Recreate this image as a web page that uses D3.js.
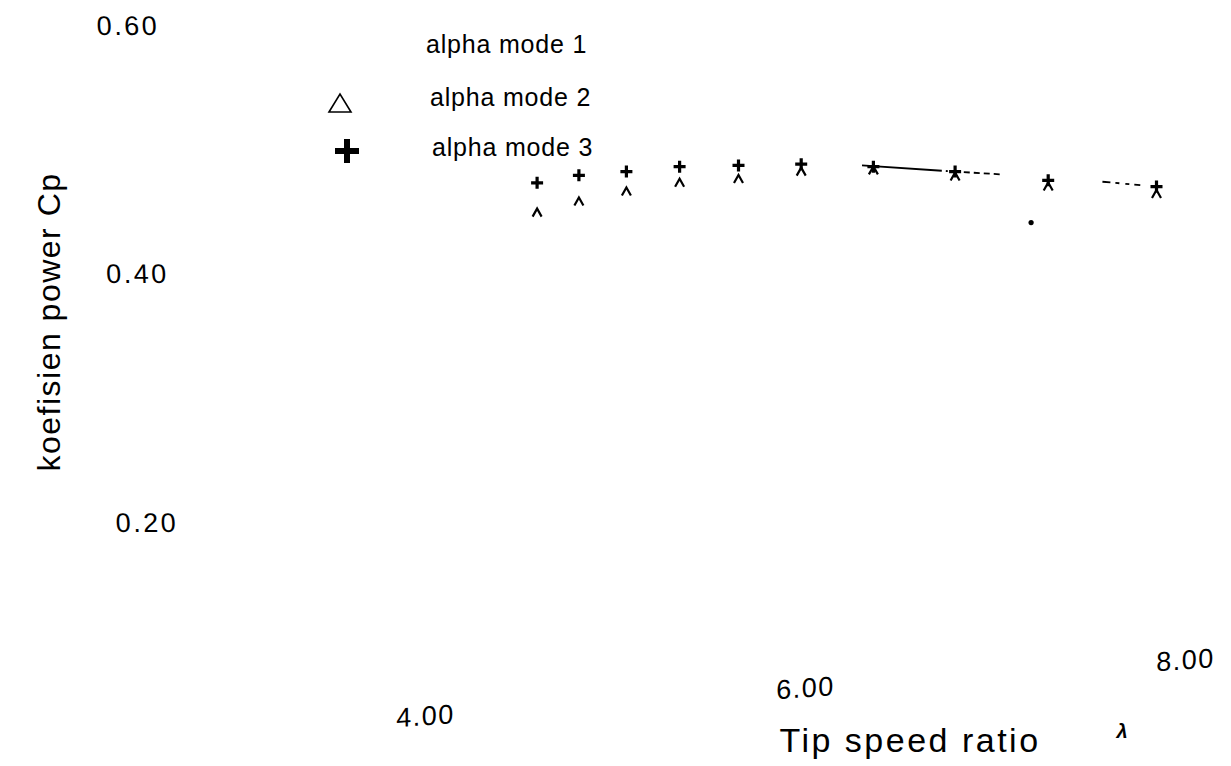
<!DOCTYPE html>
<html>
<head>
<meta charset="utf-8">
<script src="https://cdn.jsdelivr.net/npm/d3@7"></script>
<style>
  html, body { margin: 0; padding: 0; background: #fff; }
  svg { display: block; }
  text { font-family: "Liberation Sans", Arial, sans-serif; fill: #000; }
</style>
</head>
<body>
<svg id="chart" width="1231" height="766"></svg>
<script>
// ---- data ----
const tsr = [4.59, 4.81, 5.06, 5.34, 5.65, 5.98, 6.36, 6.79, 7.28, 7.85];
const cpMode3 = [0.473, 0.479, 0.482, 0.486, 0.487, 0.488, 0.486, 0.482, 0.475, 0.470];
const cpMode2 = [0.449, 0.458, 0.466, 0.473, 0.476, 0.482, 0.483, 0.478, 0.470, 0.464];
const tsrMode1 = [6.30, 6.79, 7.33, 7.85];
const cpMode1 = [0.487, 0.482, 0.477, 0.470];
const tsrMode1Pts = [7.19];
const cpMode1Pts = [0.441];
const xTicks = [4, 6, 8];
const xTickLabels = ["4.00", "6.00", "8.00"];
const yTicks = [0.2, 0.4, 0.6];
const yTickLabels = ["0.20", "0.40", "0.60"];
const legendLabels = ["alpha mode 1", "alpha mode 2", "alpha mode 3"];

const svg = d3.select("#chart");
const x = d3.scaleLinear().domain([4, 8]).range([425, 1185]);
const y = d3.scaleLinear().domain([0.2, 0.6]).range([522, 25]);

// ---- x axis (tick labels only, scan is skewed) ----
const xAxis = d3.axisBottom(x).tickValues(xTicks)
  .tickFormat((d, i) => xTickLabels[i]).tickSize(0);
const gx = svg.append("g").attr("transform", "translate(0,747) skewY(-4.21)").call(xAxis);
gx.select(".domain").remove();
gx.selectAll("text").attr("y", 0).attr("dy", "0.35em")
  .style("font-size", "27px").style("font-family", "'Liberation Sans', Arial, sans-serif")
  .style("letter-spacing", "1.5px");

// ---- y axis (tick labels only) ----
const yAxis = d3.axisLeft(y).tickValues(yTicks)
  .tickFormat((d, i) => yTickLabels[i]).tickSize(0);
const gy = svg.append("g").attr("transform", "translate(127,0) skewX(2.19)").call(yAxis);
gy.select(".domain").remove();
gy.selectAll("text").attr("x", 0).attr("dy", "0.35em").attr("text-anchor", "middle")
  .style("font-size", "27px").style("font-family", "'Liberation Sans', Arial, sans-serif")
  .style("letter-spacing", "2.5px");

// ---- axis titles ----
svg.append("text").attr("transform", "translate(60,322) rotate(-90)")
  .attr("text-anchor", "middle").style("font-size", "32px").style("letter-spacing", "1.5px")
  .text("koefisien power  Cp");
svg.append("text").attr("x", 910).attr("y", 752).attr("text-anchor", "middle")
  .style("font-size", "34px").style("letter-spacing", "2.5px").text("Tip speed ratio");
svg.append("text").attr("x", 1122).attr("y", 738).attr("text-anchor", "middle")
  .style("font-size", "20px").style("font-style", "italic").style("font-weight", "bold").text("λ");

// ---- mode 1 line ----
const line = d3.line().x((d, i) => x(tsrMode1[i])).y(d => y(d));
svg.append("path").datum(cpMode1).attr("d", line)
  .attr("fill", "none").attr("stroke", "#000").attr("stroke-width", 1.8)
  .attr("stroke-dasharray", "80 4 2 4 2 10 6 4 6 4 6 4 6 103 8 5 4 6 4 5 6 300");
svg.selectAll("circle.m1").data(cpMode1Pts).enter().append("circle")
  .attr("cx", (d, i) => x(tsrMode1Pts[i])).attr("cy", d => y(d)).attr("r", 2.6).attr("fill", "#000");

// ---- mode 2 triangles (faded scan shows only the apex strokes) ----
svg.selectAll("path.m2").data(cpMode2).enter().append("path")
  .attr("transform", (d, i) => `translate(${x(tsr[i])},${y(d)})`)
  .attr("d", "M-4.5,4 L0,-4 L4.5,4")
  .attr("fill", "none").attr("stroke", "#000").attr("stroke-width", 2.2);

// ---- mode 3 plus markers ----
svg.selectAll("path.m3").data(cpMode3).enter().append("path")
  .attr("transform", (d, i) => `translate(${x(tsr[i])},${y(d)})`)
  .attr("d", "M-6,0 L6,0 M0,-6 L0,6")
  .attr("fill", "none").attr("stroke", "#000").attr("stroke-width", 3.2);

// ---- legend ----
const legY = [44, 97, 147];
const legX = [426, 430, 432];
svg.selectAll("text.leg").data(legendLabels).enter().append("text")
  .attr("x", (d, i) => legX[i]).attr("y", (d, i) => legY[i]).attr("dy", "0.35em")
  .style("font-size", "25px").style("letter-spacing", "0.8px").text(d => d);
svg.append("path").attr("transform", "translate(340,103)")
  .attr("d", "M-11,9 L0,-9 L11,9 Z").attr("fill", "none").attr("stroke", "#000").attr("stroke-width", 1.6);
svg.append("path").attr("transform", "translate(347,151)")
  .attr("d", "M-12,0 L12,0 M0,-12 L0,12").attr("fill", "none").attr("stroke", "#000").attr("stroke-width", 6);
</script>
</body>
</html>
